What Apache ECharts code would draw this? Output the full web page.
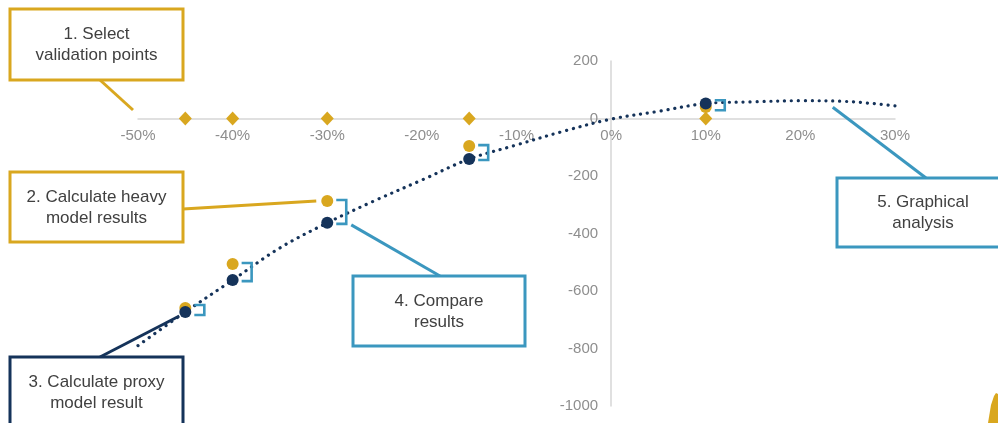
<!DOCTYPE html>
<html>
<head>
<meta charset="utf-8">
<script src="https://cdn.jsdelivr.net/npm/echarts@6/dist/echarts.min.js"></script>
<style>
  html, body { margin: 0; padding: 0; background: #ffffff; }
  #chart { width: 998px; height: 423px; }
</style>
</head>
<body>
<div id="chart"></div>
<script>
// Shock levels (%) where both models are evaluated
const validationX = [-45, -40, -30, -15, 10];
// Full (heavy) model results at the validation points
const heavyModel = [-659, -506, -287, -96, 40];
// Proxy model results at the validation points
const proxyModel = [-673, -562, -363, -141, 52];
// Proxy model curve across the shock range
const curveX = [-50, -45, -40, -35, -30, -25, -20, -15, -10, -5, 0, 5, 10, 15, 20, 25, 30];
const curveY = [-790, -673, -562, -450, -363, -286, -214, -141, -92, -44, -2, 25, 52, 58, 62, 59, 44];
// Axis ranges
const xTicks = [-50, -40, -30, -20, -10, 0, 10, 20, 30];
const yTicks = [-1000, -800, -600, -400, -200, 0, 200];

const GOLD = '#D9A71F';
const NAVY = '#15335A';
const BLUE = '#3B97BF';
const TEXT = '#404040';
const FONT = '"Liberation Sans", Arial, sans-serif';

const W = 998, H = 423;
const GRID = { left: 138, right: 103, top: 61, bottom: 17 };
const xMin = xTicks[0], xMax = xTicks[xTicks.length - 1];
const yMin = yTicks[0], yMax = yTicks[yTicks.length - 1];

// Axes cross at zero: shift each axis from its grid edge to the other axis's zero
const gridW = W - GRID.left - GRID.right;
const gridH = H - GRID.top - GRID.bottom;
const xAxisShift = gridH * (yMax - 0) / (yMax - yMin);
const yAxisShift = gridW * (0 - xMin) / (xMax - xMin);

const chart = echarts.init(document.getElementById('chart'), null, { renderer: 'canvas' });

const zip = (xs, ys) => xs.map((x, i) => [x, ys[i]]);

const axisLabel = { color: '#8e8e8e', fontSize: 15, fontFamily: FONT };

chart.setOption({
  animation: false,
  backgroundColor: '#ffffff',
  grid: Object.assign({ containLabel: false }, GRID),
  xAxis: {
    type: 'value',
    position: 'top',
    offset: -xAxisShift,
    min: xMin, max: xMax, interval: 10,
    axisLine: { onZero: false, lineStyle: { color: '#d6d6d6', width: 1.5 } },
    axisTick: { show: false },
    splitLine: { show: false },
    axisLabel: Object.assign({ inside: true, margin: 10, formatter: v => v + '%' }, axisLabel)
  },
  yAxis: {
    type: 'value',
    position: 'left',
    offset: -yAxisShift,
    min: yMin, max: yMax, interval: 200,
    axisLine: { show: true, onZero: false, lineStyle: { color: '#d6d6d6', width: 1.5 } },
    axisTick: { show: false },
    splitLine: { show: false },
    axisLabel: Object.assign({ margin: 13, formatter: v => String(v) }, axisLabel)
  },
  series: [
    {
      name: 'Proxy curve',
      type: 'line',
      data: zip(curveX, curveY),
      smooth: 0.35,
      showSymbol: false,
      symbol: 'none',
      z: 2,
      lineStyle: { color: NAVY, width: 3.2, type: [0.1, 6.8], cap: 'round' }
    },
    {
      name: 'Validation points',
      type: 'scatter',
      data: validationX.map(x => [x, 0]),
      symbol: 'diamond',
      symbolSize: [13, 14],
      z: 3,
      itemStyle: { color: GOLD, opacity: 1 }
    },
    {
      name: 'Difference',
      type: 'custom',
      z: 3,
      data: validationX.map((x, i) => [x, heavyModel[i], proxyModel[i]]),
      renderItem: function (params, api) {
        const a = api.coord([api.value(0), api.value(1)]);
        const b = api.coord([api.value(0), api.value(2)]);
        let top = Math.min(a[1], b[1]) - 1;
        let bot = Math.max(a[1], b[1]) + 1;
        if (bot - top < 10) {
          const mid = (top + bot) / 2;
          top = mid - 5; bot = mid + 5;
        }
        const x0 = a[0] + 9, x1 = a[0] + 19;
        return {
          type: 'polyline',
          shape: { points: [[x0, top], [x1, top], [x1, bot], [x0, bot]] },
          style: { stroke: BLUE, lineWidth: 2.6, fill: null }
        };
      }
    },
    {
      name: 'Heavy model',
      type: 'scatter',
      data: zip(validationX, heavyModel),
      symbol: 'circle',
      symbolSize: 12,
      z: 4,
      itemStyle: { color: GOLD, opacity: 1 }
    },
    {
      name: 'Proxy model',
      type: 'scatter',
      data: zip(validationX, proxyModel),
      symbol: 'circle',
      symbolSize: 12,
      z: 5,
      itemStyle: { color: NAVY, opacity: 1 }
    }
  ]
});

// Callout boxes with their pointer lines
function box(x, y, w, h, color, label, cx, cy) {
  return [
    {
      type: 'rect', z: 10,
      shape: { x: x, y: y, width: w, height: h },
      style: { fill: '#ffffff', stroke: color, lineWidth: 3 }
    },
    {
      type: 'text', z: 11,
      style: {
        text: label, x: cx, y: cy, align: 'center', verticalAlign: 'middle',
        font: '17px ' + FONT, fill: TEXT, lineHeight: 21
      }
    }
  ];
}
function line(p, q, color) {
  return {
    type: 'line', z: 9,
    shape: { x1: p[0], y1: p[1], x2: q[0], y2: q[1] },
    style: { stroke: color, lineWidth: 3 }
  };
}

const heavy30 = chart.convertToPixel({ gridIndex: 0 }, [validationX[2], heavyModel[2]]);
const proxy30 = chart.convertToPixel({ gridIndex: 0 }, [validationX[2], proxyModel[2]]);
const proxy45 = chart.convertToPixel({ gridIndex: 0 }, [validationX[0], proxyModel[0]]);
const curvePeak = chart.convertToPixel({ gridIndex: 0 }, [23, 60]);

const graphics = [].concat(
  line([100, 80], [133, 110], GOLD),
  box(10, 9, 173, 71, GOLD, '1. Select\nvalidation points', 96.5, 44.5),
  line([183, 209], [heavy30[0] - 11, heavy30[1]], GOLD),
  box(10, 172, 173, 70, GOLD, '2. Calculate heavy\nmodel results', 96.5, 207.5),
  line([100, 357], [proxy45[0] - 6, proxy45[1] + 4], NAVY),
  box(10, 357, 173, 90, NAVY, '3. Calculate proxy\nmodel result', 96.5, 392.5),
  line([440, 276], [proxy30[0] + 24, proxy30[1] + 2], BLUE),
  box(353, 276, 172, 70, BLUE, '4. Compare\nresults', 439, 311.5),
  line([926, 178], [curvePeak[0] + 4, curvePeak[1] + 6], BLUE),
  box(837, 178, 175, 69, BLUE, '5. Graphical\nanalysis', 923, 212.5),
  [{
    type: 'polygon', z: 12,
    shape: { points: [[988, 423], [991, 405], [994, 396], [996, 393], [998, 394], [998, 423]] },
    style: { fill: GOLD }
  }]
);

chart.setOption({ graphic: graphics });
</script>
</body>
</html>
